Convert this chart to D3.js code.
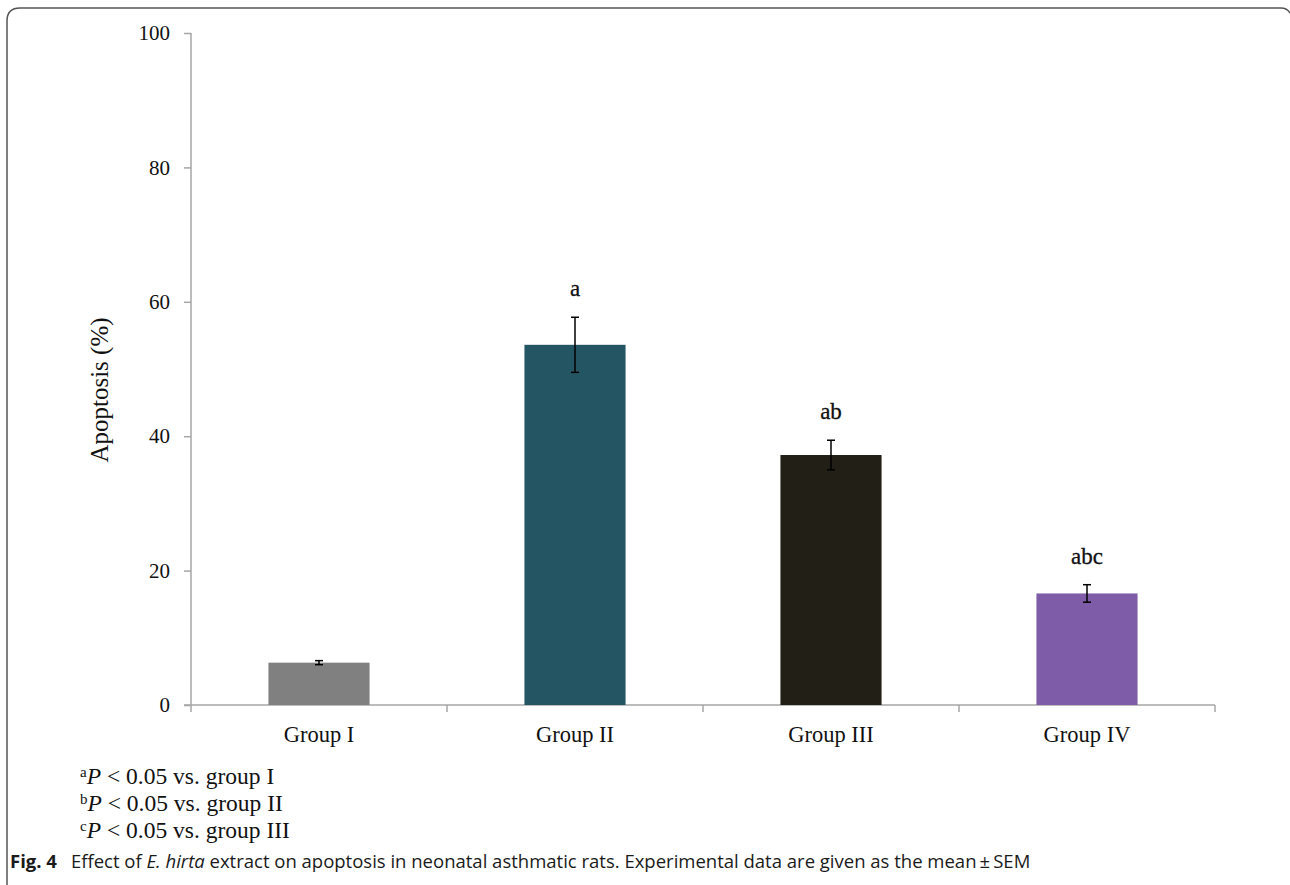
<!DOCTYPE html>
<html>
<head>
<meta charset="utf-8">
<script src="https://cdn.jsdelivr.net/npm/d3@7"></script>
<style>
  html, body { margin: 0; padding: 0; background: #fff; }
  svg { display: block; }
</style>
</head>
<body>
<svg id="chart" width="1290" height="885"></svg>
<script>
const categories = ["Group I", "Group II", "Group III", "Group IV"];
const values = [6.3, 53.6, 37.2, 16.6];
const errors = [0.3, 4.1, 2.2, 1.3];
const sigLabels = ["", "a", "ab", "abc"];
const barColors = ["#808080", "#245563", "#211f16", "#7e5ca8"];
const yTicks = [0, 20, 40, 60, 80, 100];
const yLabel = "Apoptosis (%)";
const footnotes = [
  {sup: "a", text: " < 0.05  vs. group I"},
  {sup: "b", text: " < 0.05 vs. group II"},
  {sup: "c", text: " < 0.05 vs. group III"}
];

(function () {
const svg = d3.select("#chart");
const serif = "'Liberation Serif', 'Times New Roman', serif";

// frame
svg.append("path")
  .attr("d", "M7,885 L7,21 Q7,8 20,8 L1281,8 Q1287,8 1290,13")
  .attr("fill", "none").attr("stroke", "#555").attr("stroke-width", 1.5);

const pL = 191, pR = 1215, pT = 33, pB = 705;
const x = d3.scaleBand().domain(categories).range([pL, pR])
  .paddingInner(0.605).paddingOuter(0.3025);
const y = d3.scaleLinear().domain([0, 100]).range([pB, pT]);

// y axis
const yAxis = svg.append("g").attr("transform", `translate(${pL},0)`)
  .call(d3.axisLeft(y).tickValues(yTicks).tickSize(7).tickPadding(14));
yAxis.select(".domain").attr("stroke", "#a6a6a6").attr("stroke-width", 1.5)
  .attr("d", `M0,${pT}V${pB}`);
yAxis.selectAll(".tick line").attr("stroke", "#a6a6a6").attr("stroke-width", 1.5);
yAxis.selectAll(".tick text").attr("font-family", serif).attr("font-size", 21)
  .attr("fill", "#111");

// x axis
const xg = svg.append("g");
xg.append("line").attr("x1", pL - 7).attr("x2", pR).attr("y1", pB).attr("y2", pB)
  .attr("stroke", "#a6a6a6").attr("stroke-width", 1.5);
const bounds = categories.map(c => x(c) - x.step() * x.paddingInner() / 2);
bounds.push(pR);
xg.selectAll("line.tk").data(bounds).enter().append("line").attr("class", "tk")
  .attr("x1", d => d).attr("x2", d => d).attr("y1", pB).attr("y2", pB + 7)
  .attr("stroke", "#a6a6a6").attr("stroke-width", 1.5);
xg.selectAll("text").data(categories).enter().append("text")
  .attr("x", d => x(d) + x.bandwidth() / 2).attr("y", 742)
  .attr("text-anchor", "middle").attr("font-family", serif).attr("font-size", 22.5)
  .attr("fill", "#111").text(d => d);

// bars
const data = categories.map((c, i) => ({c, v: values[i], e: errors[i], s: sigLabels[i], col: barColors[i]}));
svg.selectAll("rect.bar").data(data).enter().append("rect").attr("class", "bar")
  .attr("x", d => x(d.c)).attr("width", x.bandwidth())
  .attr("y", d => y(d.v)).attr("height", d => y(0) - y(d.v))
  .attr("fill", d => d.col);

// error bars
const eb = svg.selectAll("g.err").data(data).enter().append("g").attr("class", "err");
eb.append("line").attr("x1", d => x(d.c) + x.bandwidth() / 2).attr("x2", d => x(d.c) + x.bandwidth() / 2)
  .attr("y1", d => y(d.v + d.e)).attr("y2", d => y(d.v - d.e))
  .attr("stroke", "#000").attr("stroke-width", 1.5);
[1, -1].forEach(sgn => {
  eb.append("line").attr("x1", d => x(d.c) + x.bandwidth() / 2 - 4).attr("x2", d => x(d.c) + x.bandwidth() / 2 + 4)
    .attr("y1", d => y(d.v + sgn * d.e)).attr("y2", d => y(d.v + sgn * d.e))
    .attr("stroke", "#000").attr("stroke-width", 1.5);
});

// significance labels
svg.selectAll("text.sig").data(data.filter(d => d.s)).enter().append("text").attr("class", "sig")
  .attr("x", d => x(d.c) + x.bandwidth() / 2).attr("y", d => y(d.v + d.e) - 21)
  .attr("text-anchor", "middle").attr("font-family", serif).attr("font-size", 23)
  .attr("fill", "#111").attr("stroke", "#111").attr("stroke-width", 0.3).text(d => d.s);

// y label
svg.append("text").attr("transform", "translate(108,390) rotate(-90)")
  .attr("text-anchor", "middle").attr("font-family", serif).attr("font-size", 25)
  .attr("fill", "#111").text(yLabel);

// footnotes
footnotes.forEach((f, i) => {
  const t = svg.append("text").attr("x", 80).attr("y", 784 + i * 27)
    .attr("font-family", serif).attr("font-size", 23.5).attr("fill", "#111");
  t.append("tspan").attr("font-size", 15).attr("dy", -7).text(f.sup);
  t.append("tspan").attr("font-style", "italic").attr("dy", 7).text("P");
  t.append("tspan").text(f.text);
});

// caption
const cap = svg.append("text").attr("x", 10).attr("y", 868)
  .attr("font-family", "'Open Sans', 'Noto Sans', sans-serif").attr("font-size", 18.5).attr("fill", "#1a1a1a");
cap.append("tspan").attr("font-weight", "bold").text("Fig. 4");
cap.append("tspan").text("\u2002 Effect of ");
cap.append("tspan").attr("font-style", "italic").text("E. hirta");
cap.append("tspan").text(" extract on apoptosis in neonatal asthmatic rats. Experimental data are given as the mean\u2009\u00b1\u2009SEM");
})();
</script>
</body>
</html>
